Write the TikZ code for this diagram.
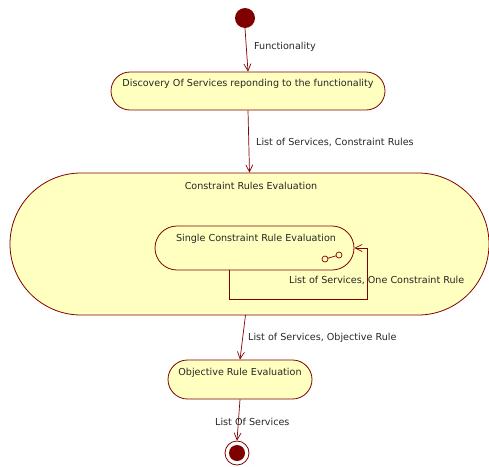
\documentclass[tikz,border=0pt]{standalone}
\usepackage{fontspec}
\setmainfont{DejaVu Sans}
\usetikzlibrary{arrows.meta,shapes.misc}
\definecolor{umlred}{HTML}{800000}
\definecolor{umlfill}{HTML}{FFFFC0}
\begin{document}
\begin{tikzpicture}[x=1pt,y=-1pt,
  state/.style={rounded rectangle,draw=umlred,fill=umlfill,line width=0.8pt,inner sep=0pt},
  txt/.style={font=\fontsize{9.6}{11}\selectfont,text=black!85,inner sep=0pt},
  flow/.style={draw=umlred,line width=0.7pt,-{Straight Barb[length=7pt,width=7pt]}}]
\useasboundingbox (0,0) rectangle (489,466);
% start
\node[circle,fill=umlred,minimum size=20pt,inner sep=0pt] (start) at (245,18) {};
% discovery
\node[state,minimum width=274pt,minimum height=38pt] (disc) at (248,91) {};
\node[txt] (disct) at (248,84) {Discovery Of Services reponding to the functionality};
% constraint rules
\node[state,minimum width=479pt,minimum height=142pt] (cre) at (249.5,244) {};
\node[txt] (cret) at (251,186) {Constraint Rules Evaluation};
% single
\node[state,minimum width=199pt,minimum height=44pt] (scr) at (254.5,248) {};
\node[txt] (scrt) at (256,239) {Single Constraint Rule Evaluation};
\draw[umlred,line width=0.7pt] (325,259) circle (3) (339,255) circle (3);
\draw[umlred,line width=0.7pt] (327.9,258.2) -- (336.1,255.8);
% objective
\node[state,minimum width=144pt,minimum height=39pt] (obj) at (240,379.5) {};
\node[txt] (objt) at (240,373) {Objective Rule Evaluation};
% end
\node[circle,draw=umlred,fill=white,line width=0.8pt,minimum size=24pt,inner sep=0pt] (end) at (237,453) {};
\node[circle,fill=umlred,minimum size=16pt,inner sep=0pt] (endin) at (237,453) {};
% connectors
\draw[flow] (start.south) -- (disc.north);
\node[txt,anchor=west] (l1) at (254,47) {Functionality};
\draw[flow] (disc.south) -- (cre.north);
\node[txt,anchor=west] (l2) at (256,142) {List of Services, Constraint Rules};
\coordinate (la) at (229,299);
\coordinate (lb) at (367,299);
\draw[flow] (la |- scr.south) -- (la) -- (lb) -- (lb |- scr.east) -- (scr.east);
\node[txt,anchor=west] (l3) at (289,280) {List of Services, One Constraint Rule};
\draw[flow] (245.5,315) -- (obj.north);
\node[txt,anchor=west] (l4) at (248,338) {List of Services, Objective Rule};
\draw[flow] (obj.south) -- (end.north);
\node[txt,anchor=west] (l5) at (215,422) {List Of Services};
\end{tikzpicture}
\end{document}
